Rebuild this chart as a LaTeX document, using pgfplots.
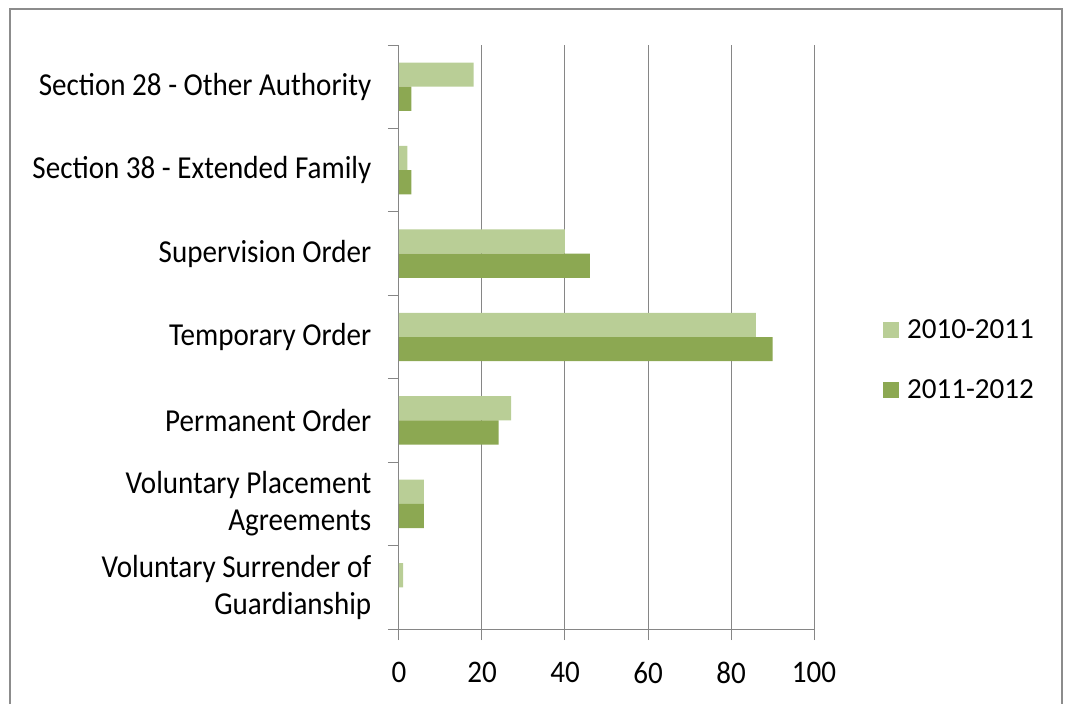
\documentclass[border=0pt]{standalone}
\usepackage{pgfplots}
\pgfplotsset{compat=1.18}
\usepackage{fontspec}
\setmainfont{Carlito}
\definecolor{lightg}{HTML}{B9CE96}
\definecolor{darkg}{HTML}{8CA852}
\definecolor{axgray}{HTML}{868686}
\definecolor{framegray}{HTML}{8C8C8C}
\begin{document}
\begin{tikzpicture}
\useasboundingbox (0pt,0pt) rectangle (801pt,528pt);
\draw[line width=1.5pt, draw=framegray] (7.5pt,0pt) -- (7.5pt,521.25pt) -- (796.5pt,521.25pt) -- (796.5pt,0pt);
\begin{axis}[
  at={(299.25pt,56.25pt)}, anchor=south west,
  scale only axis, width=311.25pt, height=438pt,
  xbar, bar width=0.29,
  xmin=0, xmax=100, ymin=-0.5, ymax=6.5,
  xtick={0,20,...,100},
  ytick={-0.5,0.5,...,6.5},
  yticklabels={{Voluntary Surrender of\\Guardianship}, {Voluntary Placement\\Agreements}, Permanent Order, Temporary Order, Supervision Order, Section 38 - Extended Family, Section 28 - Other Authority, {}},
  yticklabel style={align=right, anchor=east, yshift=31.29pt, xshift=-9pt, yscale=1.1},
  xticklabel style={yshift=-13pt, yscale=1.08},
  every tick label/.append style={font=\fontsize{21.8}{25.2}\selectfont, text=black},
  /pgf/number format/assume math mode=true,
  xmajorgrids, major grid style={axgray, line width=0.75pt},
  axis x line*=bottom, axis y line*=left,
  axis line style={axgray, line width=0.75pt, -},
  tick style={axgray, line width=0.75pt},
  major tick length=8.25pt, tick align=outside,
  legend style={draw=none, at={(1.166,0.4606)}, anchor=west, inner sep=0pt,
    font=\fontsize{21.8}{26}\selectfont, row sep=26pt,
    /tikz/every odd column/.append style={column sep=4pt}},
  legend image code/.code={\fill[#1] (0pt,-6pt) rectangle (12pt,6pt);},
  legend cell align=left,
]
\addplot[fill=lightg, draw=none, bar shift=0.145] coordinates {(1,0) (6,1) (27,2) (86,3) (40,4) (2,5) (18,6)};
\addplot[fill=darkg, draw=none, bar shift=-0.145] coordinates {(0,0) (6,1) (24,2) (90,3) (46,4) (3,5) (3,6)};
\legend{2010-2011, 2011-2012}
\end{axis}
\end{tikzpicture}
\end{document}
